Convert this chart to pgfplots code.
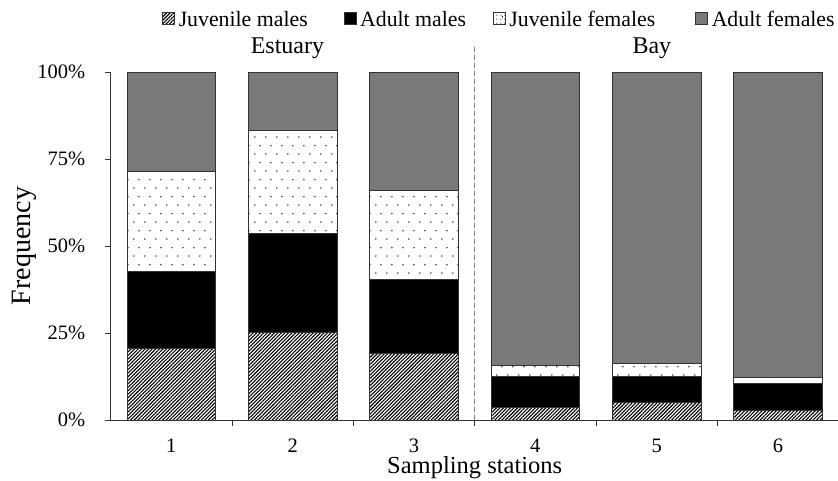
\documentclass[border=0pt]{standalone}
\usepackage{fontspec}
\setmainfont{Liberation Serif}
\usepackage{pgfplots}
\usepackage{pgfplotstable}
\pgfplotsset{compat=1.18}
\usetikzlibrary{patterns.meta}
\definecolor{femgray}{HTML}{7A7A7A}
\definecolor{edge}{HTML}{333333}
\tikzdeclarepattern{
  name=sdots, type=uncolored,
  bounding box={(0pt,0pt) and (11pt,17.4pt)},
  tile size={(11pt,17.4pt)},
  code={\fill (2pt,2pt) circle (0.8pt); \fill (7.5pt,10.7pt) circle (0.8pt);}
}
\tikzdeclarepattern{
  name=ldots, type=uncolored,
  bounding box={(0pt,0pt) and (4pt,4pt)},
  tile size={(4pt,4pt)},
  code={\fill (1pt,1pt) circle (0.7pt);}
}
\pgfplotstableread{
x jm am jf af
1 20.6 22.2 28.7 28.5
2 25.2 28.4 29.6 16.8
3 19.1 21.2 25.7 34.0
4 3.5 8.9 3.4 84.2
5 5.0 7.4 3.9 83.7
6 2.7 7.9 1.6 87.8
}\data
\begin{document}
\begin{tikzpicture}
\begin{axis}[
  scale only axis, width=728pt, height=348pt,
  ybar stacked, bar width=0.73,
  xmin=0.5, xmax=6.5, ymin=0, ymax=100,
  axis x line*=bottom, axis y line*=left,
  axis line style={-, draw=edge, line width=1pt},
  tick style={draw=edge, line width=1pt},
  tick align=outside, major tick length=6pt,
  xtick={1.5,2.5,3.5,4.5,5.5}, xticklabels={},
  extra x ticks={1,2,3,4,5,6},
  extra x tick labels={1,2,3,4,5,6},
  extra x tick style={major tick length=0pt},
  ytick={0,25,50,75,100},
  yticklabels={0\%,25\%,50\%,75\%,100\%},
  ticklabel style={font=\fontsize{20.5}{22}\selectfont},
  xticklabel style={anchor=base, yshift=-32pt, inner sep=0pt},
  yticklabel style={anchor=east, xshift=-16pt},
  xlabel={Sampling stations},
  ylabel={Frequency},
  xlabel style={font=\fontsize{24.5}{26}\selectfont, inner sep=0pt, at={(axis description cs:0.5,0)}, anchor=base, yshift=-53pt},
  ylabel style={font=\fontsize{28}{30}\selectfont, at={(axis description cs:0,0.5)}, anchor=center, yshift=86pt},
  clip=false,
  legend columns=4,
  legend style={draw=none, fill=none, inner sep=0pt,
    at={(axis description cs:0.0700,1.150)}, anchor=base west,
    font=\fontsize{21.8}{23}\selectfont,
    nodes={inner sep=0pt},
    /tikz/column 1/.style={column sep=4pt},
    /tikz/column 2/.style={column sep=36pt},
    /tikz/column 3/.style={column sep=3.5pt},
    /tikz/column 4/.style={column sep=27pt},
    /tikz/column 5/.style={column sep=3.5pt},
    /tikz/column 6/.style={column sep=40pt},
    /tikz/column 7/.style={column sep=3.5pt}},
  legend image code/.code={\draw[#1] (0pt,-5pt) rectangle (12pt,7pt);},
  every axis plot/.append style={draw=edge, line width=0.9pt},
]
\addplot[fill=white, postaction={pattern={Lines[angle=45,distance=2.5pt,line width=1.1pt]}}] table[x=x,y=jm]{\data};
\addplot[fill=black] table[x=x,y=am]{\data};
\addplot[fill=white, postaction={pattern=sdots}, legend image code/.code={\draw[fill=white, postaction={pattern=ldots}, draw=edge, line width=0.9pt] (0pt,-5pt) rectangle (12pt,7pt);}] table[x=x,y=jf]{\data};
\addplot[fill=femgray] table[x=x,y=af]{\data};
\legend{Juvenile males, Adult males, Juvenile females, Adult females}
\draw[draw=gray, dash pattern=on 5pt off 3pt, line width=1pt] (axis cs:3.5,0) -- (axis cs:3.5,107.8);
\node[anchor=base, font=\fontsize{24}{26}\selectfont] at (axis cs:1.957,105.2) {Estuary};
\node[anchor=base, font=\fontsize{24}{26}\selectfont] at (axis cs:4.96,105.2) {Bay};
\coordinate (ll) at (rel axis cs:0,0);
\coordinate (ur) at (rel axis cs:1,1);
\end{axis}
\pgfresetboundingbox
\path[use as bounding box] ([xshift=-110.7pt,yshift=-60pt]ll) rectangle ([xshift=-0.7pt,yshift=72pt]ur);
\end{tikzpicture}
\end{document}
